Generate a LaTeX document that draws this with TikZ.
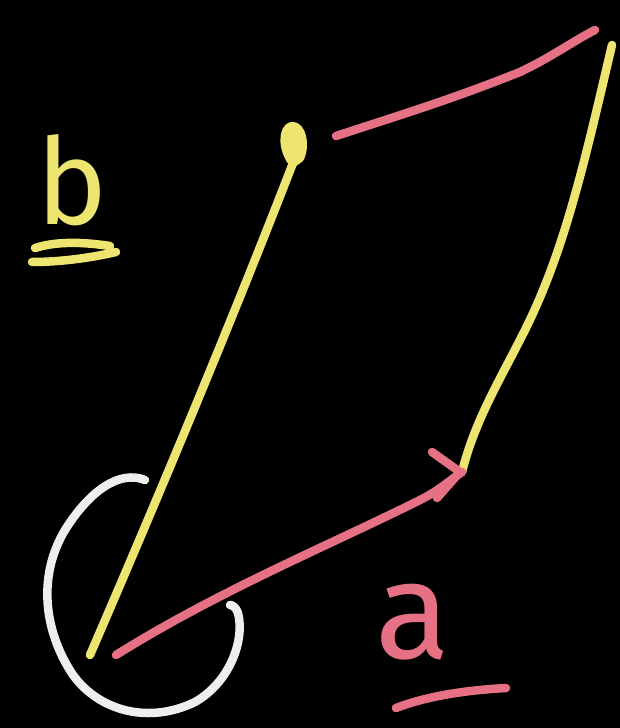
\documentclass[tikz,border=0pt]{standalone}
\usepackage{fontspec}
\setsansfont{Fira Sans}
\usetikzlibrary{arrows.meta}
\definecolor{yel}{RGB}{238,228,112}
\definecolor{pnk}{RGB}{230,112,132}
\definecolor{wht}{RGB}{238,238,238}
\tikzset{
  stroke/.style={line width=8.5pt,line cap=round,line join=round},
  ylw/.style={stroke,draw=yel},
  pk/.style={stroke,draw=pnk},
  wt/.style={stroke,draw=wht},
  lbl/.style={font=\sffamily\fontsize{120}{120}\selectfont,inner sep=0pt}
}
\begin{document}
\begin{tikzpicture}[x=1pt,y=-1pt]
\fill[black] (0,0) rectangle (620,728);
\useasboundingbox (0,0) rectangle (620,728);
% points
\coordinate (O) at (90,655);
\coordinate (B) at (293,163);
\coordinate (A) at (462,472);
\coordinate (C) at (612,45);
% b vector (yellow)
\draw[ylw] (O) .. controls (170,470) and (240,300) .. (B);
\draw[ylw,fill=yel] (B) .. controls (282,150) and (282,128) .. (292,126)
      .. controls (302,126) and (306,145) .. (300,158) -- cycle;
% top pink side
\draw[pk] (336,136) .. controls (400,115) and (450,100) .. (520,72)
      .. controls (550,58) and (575,40) .. (595,30);
% right yellow side
\draw[ylw] (C) .. controls (585,160) and (565,250) .. (525,330)
      .. controls (500,380) and (475,420) .. (A);
% a vector (pink) with hand arrowhead
\draw[pk] (116,655) .. controls (220,590) and (330,545) .. (420,500)
      .. controls (440,490) and (450,480) .. (A);
\draw[pk] (432,452) -- (460,472) -- (437,498);
% white angle arc
\draw[wt] (145,480) .. controls (120,470) and (90,490) .. (65,530)
      .. controls (38,575) and (43,630) .. (73,675)
      .. controls (100,712) and (150,724) .. (195,702)
      .. controls (230,682) and (245,640) .. (238,613)
      .. controls (236,607) and (232,605) .. (230,605);
% labels
\node[lbl,text=yel] (lb) at (72,180) {b};
\draw[ylw] (35,248) .. controls (60,240) and (90,243) .. (110,246);
\draw[ylw] (32,262) .. controls (60,262) and (90,258) .. (116,252);
\node[lbl,font=\sffamily\fontsize{138}{138}\selectfont,text=pnk] (la) at (413,622) {a};
\draw[pk] (396,708) .. controls (430,695) and (470,690) .. (506,688);
\end{tikzpicture}
\end{document}
